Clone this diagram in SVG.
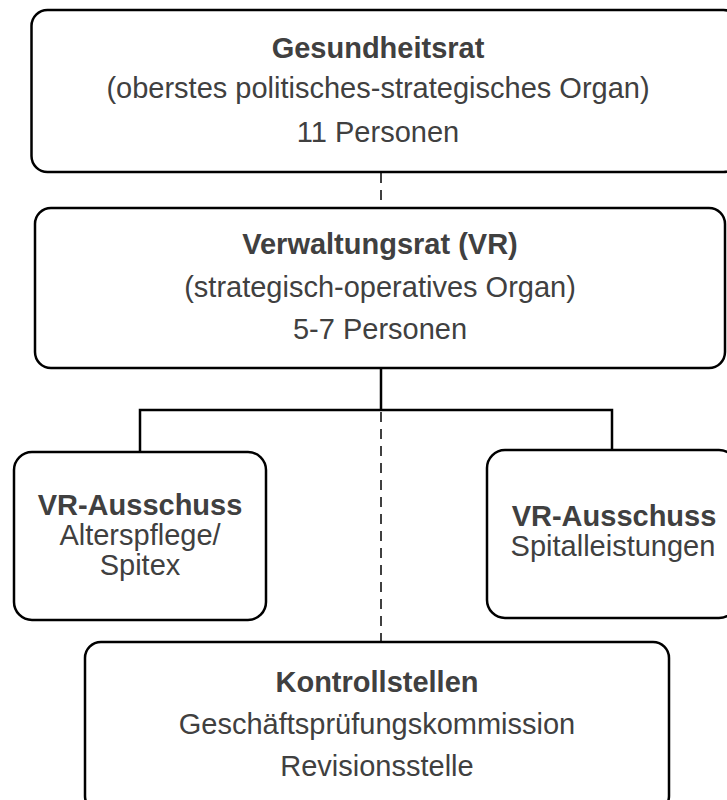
<svg xmlns="http://www.w3.org/2000/svg" width="727" height="800" viewBox="0 0 727 800">
<style>
.box{fill:#fff;stroke:#000;stroke-width:2.5}
.t{font-family:"Liberation Sans",Arial,sans-serif;font-size:29px;fill:#404040;text-anchor:middle}
.b{font-weight:bold}
.solid{fill:none;stroke:#000;stroke-width:2.5}
.dash{fill:none;stroke:#404040;stroke-width:2;stroke-dasharray:10,7}
</style>
<rect width="727" height="800" fill="#fff"/>
<g id="connectors">
<line class="dash" x1="381" y1="173" x2="381" y2="208"/>
<line class="dash" x1="381" y1="412" x2="381" y2="642"/>
<polyline class="solid" points="381,368 381,410"/>
<polyline class="solid" points="140,452 140,410 612,410 612,450"/>
</g>
<g id="gesundheitsrat">
<rect class="box" x="31.5" y="10" width="708" height="162" rx="16"/>
<text class="t b" x="378" y="58">Gesundheitsrat</text>
<text class="t" x="378" y="98">(oberstes politisches-strategisches Organ)</text>
<text class="t" x="378" y="142">11 Personen</text>
</g>
<g id="verwaltungsrat">
<rect class="box" x="35" y="208" width="690" height="160" rx="16"/>
<text class="t b" x="380" y="254">Verwaltungsrat (VR)</text>
<text class="t" x="380" y="297">(strategisch-operatives Organ)</text>
<text class="t" x="380" y="339">5-7 Personen</text>
</g>
<g id="ausschuss-alterspflege">
<rect class="box" x="14" y="452" width="252" height="168" rx="18"/>
<text class="t b" x="140" y="515">VR-Ausschuss</text>
<text class="t" x="140" y="545">Alterspflege/</text>
<text class="t" x="140" y="575">Spitex</text>
</g>
<g id="ausschuss-spital">
<rect class="box" x="487" y="450" width="250" height="168" rx="18"/>
<text class="t b" x="614" y="526">VR-Ausschuss</text>
<text class="t" x="613" y="556">Spitalleistungen</text>
</g>
<g id="kontrollstellen">
<rect class="box" x="85" y="642" width="584" height="170" rx="16"/>
<text class="t b" x="377" y="692">Kontrollstellen</text>
<text class="t" x="377" y="734">Geschäftsprüfungskommission</text>
<text class="t" x="377" y="776">Revisionsstelle</text>
</g>
</svg>
